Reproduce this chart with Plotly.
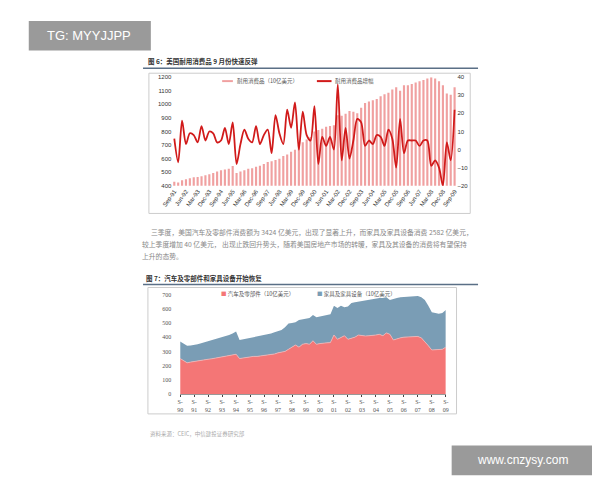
import plotly.graph_objects as go

# ---- Figure 6 data (quarterly, Sep-91 .. Sep-09)
dur_goods = [430, 425,
             440, 448, 455, 462, 465, 470, 478, 485, 495, 505, 515, 520,
             525, 545, 495, 505, 515, 525, 530, 540, 548, 560, 575, 580,
             590, 600, 620, 630, 650, 665, 700, 720, 740, 760, 800, 810,
             820, 835, 840, 845, 920, 915, 930, 950, 945, 935, 975, 1010,
             1020, 1030, 1040, 1060, 1075, 1085, 1110, 1125, 1100, 1140, 1140, 1150,
             1160, 1170, 1180, 1190, 1200, 1190, 1170, 1140, 1080, 1070, 1125]
dur_growth = [6, -7,
              16, 3, 9, 8, 4, 13, 5, 10, 9, 4, 5, 12,
              3, 15, -8, 3, 11, 6, 4, 13, 3, 8, 11, -2,
              19, 9, 3, 22, 12, 26, 0, 21, 8, 5, 24, -8,
              7, 2, 7, 0, 36, -6, 12, -5, 5, 17, 15, 2,
              5, 3, 8, 7, 2, 11, 6, -10, 17, -2, 5, 5,
              5, 2, 5, 5, -9, -6, -10, -20, 4, -6, 22]
q_labels1 = []
mon = ["Mar", "Jun", "Sep", "Dec"]
qi, yr = 2, 91
for _ in range(73):
    q_labels1.append(f"{mon[qi]}-{yr % 100:02d}")
    qi += 1
    if qi == 4:
        qi, yr = 0, yr + 1
tick1 = q_labels1[::3]

# ---- Figure 7 data (quarterly, Sep-90 .. Sep-09)
auto = [250, 235,
        220, 225, 230, 232, 238, 242, 245, 248, 252, 258, 262, 268,
        272, 275, 280, 250, 255, 258, 262, 265, 265, 268, 270, 272,
        278, 282, 290, 295, 300, 315, 330, 345, 330, 350, 355, 350,
        375, 350, 355, 360, 360, 362, 415, 385, 395, 410, 385, 390,
        400, 415, 410, 408, 410, 410, 415, 420, 410, 430, 420, 380,
        390, 395, 400, 402, 402, 405, 405, 395, 370, 340, 310, 310,
        310, 315, 330]
total = [370, 355,
         340, 342, 345, 350, 358, 365, 370, 378, 385, 392, 398, 405,
         415, 425, 440, 380, 385, 390, 395, 400, 405, 408, 412, 418,
         425, 435, 440, 450, 470, 495, 500, 505, 520, 525, 530, 535,
         555, 540, 545, 550, 555, 560, 620, 605, 620, 610, 615, 640,
         645, 650, 655, 660, 665, 665, 670, 675, 675, 680, 660, 670,
         675, 680, 682, 684, 685, 686, 688, 680, 660, 620, 575, 570,
         565, 570, 590]
furniture = [t - a for t, a in zip(total, auto)]
x2 = list(range(len(auto)))
tick2_pos = list(range(0, 77, 4))
tick2_text = [f"S-<br>{(90 + i) % 100:02d}" for i in range(20)]

W, H = 600, 480
def px(x): return x / W
def py(y): return 1 - y / H

CJK = "Noto Sans CJK SC"
fig = go.Figure()
fig.add_trace(go.Bar(x=q_labels1, y=dur_goods, marker_color="#F0A0A0",
                     marker_line_width=0, width=0.55, xaxis="x", yaxis="y"))
fig.add_trace(go.Scatter(x=q_labels1, y=dur_growth, mode="lines", line=dict(color="#D11A1A", width=1.8, shape="spline", smoothing=0.8),
                         xaxis="x", yaxis="y2"))
fig.add_trace(go.Scatter(x=x2, y=auto, mode="lines", stackgroup="s", line=dict(width=0.8, color="#F5B5B5"),
                         fillcolor="#F47676", xaxis="x3", yaxis="y3"))
fig.add_trace(go.Scatter(x=x2, y=furniture, mode="lines", stackgroup="s", line=dict(width=0, color="#7A9DB5"),
                         fillcolor="#7A9DB5", xaxis="x3", yaxis="y3"))

tf = dict(family="Liberation Sans", size=6, color="#333")
fig.update_layout(
    width=W, height=H, margin=dict(l=0, r=0, t=0, b=0), showlegend=False,
    paper_bgcolor="white", plot_bgcolor="white", bargap=0.4,
    xaxis=dict(domain=[px(157), px(448)], anchor="y", type="category", tickvals=tick1, ticktext=tick1,
               tickangle=-55, tickfont=tf, showgrid=False, ticks="", showline=False),
    yaxis=dict(domain=[py(177), py(67)], range=[400, 1200], dtick=100, tickfont=tf, showgrid=False, zeroline=False),
    yaxis2=dict(overlaying="y", side="right", range=[-20, 40], dtick=10, tickfont=tf, showgrid=False, zeroline=False, anchor="x"),
    xaxis3=dict(domain=[px(165), px(437)], anchor="y3", range=[0, 76], tickvals=tick2_pos, ticktext=tick2_text,
                tickfont=dict(family="Liberation Serif", size=6, color="#555"), showgrid=False, ticks="outside",
                ticklen=2, showline=True, linecolor="#999"),
    yaxis3=dict(domain=[py(388), py(287)], range=[0, 700], dtick=100, tickfont=dict(family="Liberation Serif", size=6, color="#555"),
                showgrid=False, zeroline=False),
)

shapes = [
    dict(type="rect", xref="paper", yref="paper", x0=px(133), x1=px(462), y0=py(205), y1=py(63), line=dict(color="#ccc", width=1)),
    dict(type="line", xref="paper", yref="paper", x0=px(127), x1=px(470), y0=py(58), y1=py(58), line=dict(color="#5a6f86", width=1.5)),
    dict(type="rect", xref="paper", yref="paper", x0=px(132), x1=px(448), y0=py(408), y1=py(280), line=dict(color="#ccc", width=1)),
    dict(type="line", xref="paper", yref="paper", x0=px(127), x1=px(470), y0=py(277), y1=py(277), line=dict(color="#5a6f86", width=1.5)),
    dict(type="rect", xref="paper", yref="paper", x0=px(10), x1=px(135), y0=py(40), y1=py(10), fillcolor="#9a9a9a", line=dict(width=0)),
    dict(type="rect", xref="paper", yref="paper", x0=px(443), x1=px(590), y0=py(470), y1=py(440), fillcolor="#9a9a9a", line=dict(width=0)),
    dict(type="rect", xref="paper", yref="paper", x0=px(208), x1=px(219), y0=py(72), y1=py(70), fillcolor="#F0A0A0", line=dict(width=0)),
    dict(type="line", xref="paper", yref="paper", x0=px(305), x1=px(320), y0=py(71), y1=py(71), line=dict(color="#D11A1A", width=2)),
]
fig.update_layout(shapes=shapes)

def ann(x, y, text, size=7, color="#333", family=CJK, xanchor="left"):
    fig.add_annotation(x=px(x), y=py(y), xref="paper", yref="paper", text=text, showarrow=False,
                       xanchor=xanchor, yanchor="middle", font=dict(family=family, size=size, color=color))

ann(130, 51, "<b>图 6：美国耐用消费品 9 月份快速反弹</b>", 6.5)
ann(221, 71, "耐用消费品（10亿美元）", 5.5, "#555")
ann(322, 71, "耐用消费品增幅", 5.5, "#555")
ann(133, 224, "三季度，美国汽车及零部件消费额为 3424 亿美元，出现了显著上升，而家具及家具设备消费 2582 亿美元，", 6.8, "#888")
ann(124, 236, "较上季度增加 40 亿美元， 出现止跌回升势头，随着美国房地产市场的转暖，家具及其设备的消费将有望保持", 6.8, "#888")
ann(124, 248, "上升的态势。", 6.8, "#888")
ann(128, 270, "<b>图 7：汽车及零部件和家具设备开始恢复</b>", 6.5)
ann(205, 287, "<span style='color:#F47676'>■</span> 汽车及零部件（10亿美元）", 5.5, "#555")
ann(303, 287, "<span style='color:#7A9DB5'>■</span> 家具及家具设备（10亿美元）", 5.5, "#555")
ann(132, 428, "资料来源：CEIC，中信建投证券研究部", 5.5, "#aaa")
ann(72, 25, "TG: MYYJJPP", 13, "white", "Liberation Sans", "center")
ann(516, 455, "www.cnzysy.com", 12, "white", "Liberation Sans", "center")

fig.write_html("out.html")
